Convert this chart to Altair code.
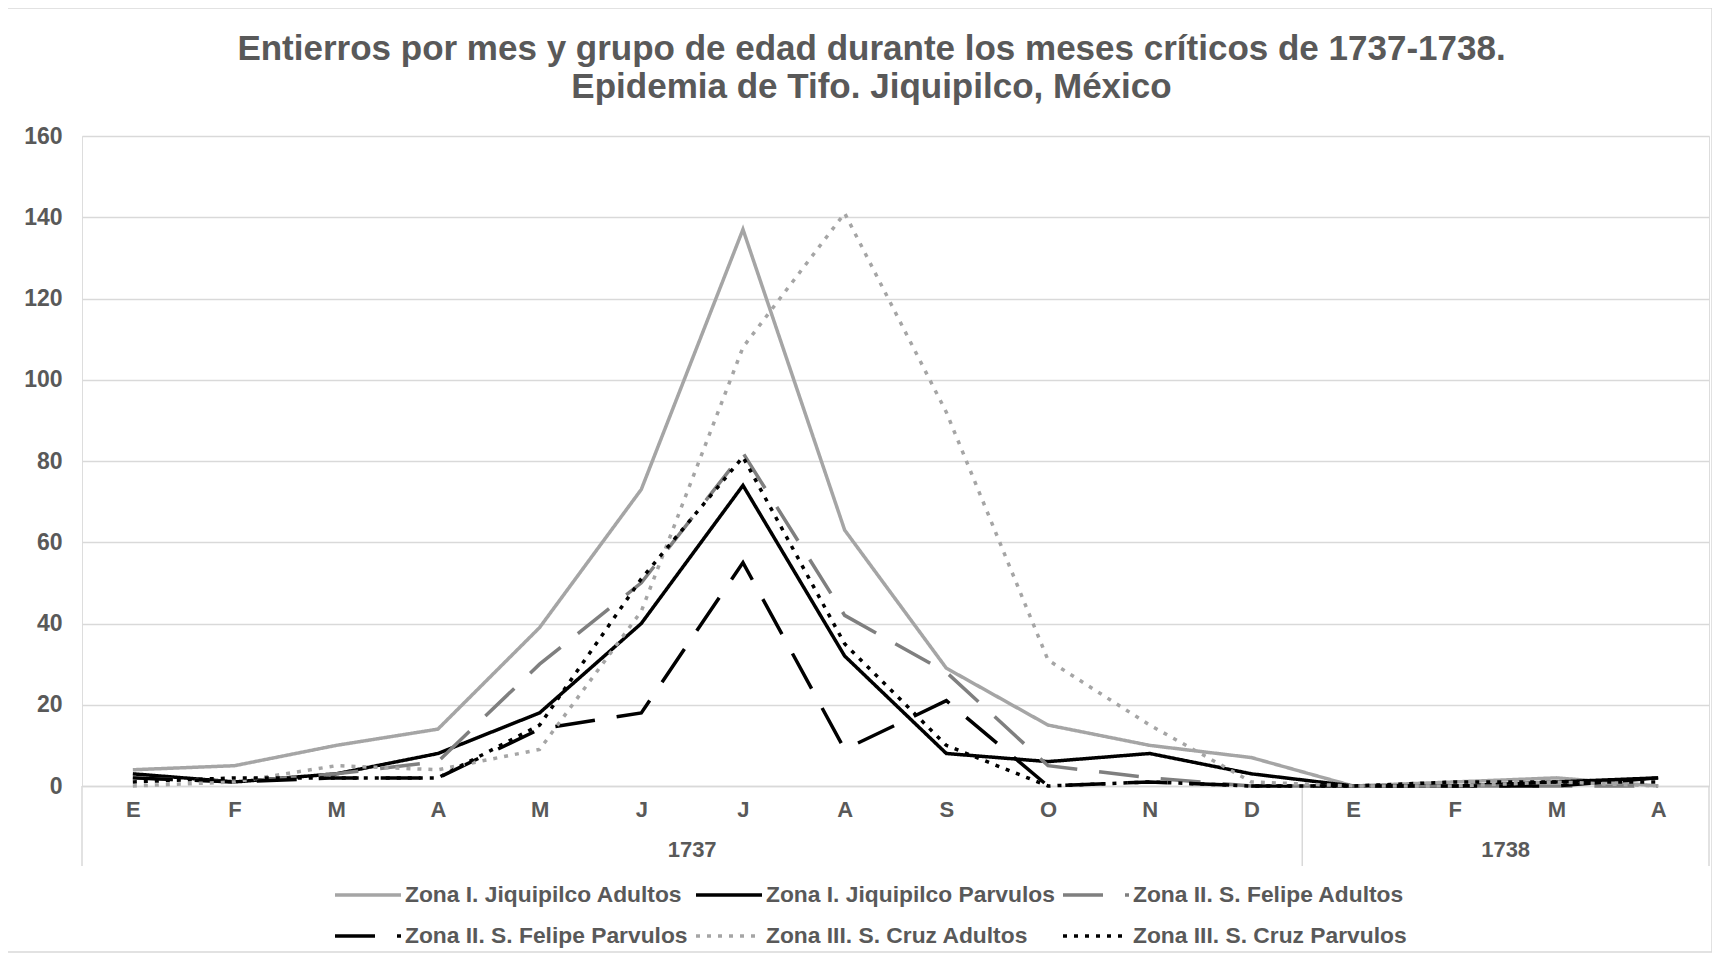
import altair as alt
import pandas as pd

# ---- data ----
months = ["E", "F", "M", "A", "M", "J", "J", "A", "S", "O", "N", "D", "E", "F", "M", "A"]
years = ["1737"] * 12 + ["1738"] * 4

series_names = [
    "Zona I. Jiquipilco Adultos",
    "Zona I. Jiquipilco Parvulos",
    "Zona II. S. Felipe Adultos",
    "Zona II. S. Felipe Parvulos",
    "Zona III. S. Cruz Adultos",
    "Zona III. S. Cruz Parvulos",
]
z1_adultos = [4, 5, 10, 14, 39, 73, 137, 63, 29, 15, 10, 7, 0, 1, 2, 0]
z1_parvulos = [3, 1, 3, 8, 18, 40, 74, 32, 8, 6, 8, 3, 0, 0, 1, 2]
z2_adultos = [2, 1, 3, 6, 30, 50, 82, 42, 28, 5, 2, 0, 0, 0, 0, 0]
z2_parvulos = [2, 1, 2, 2, 14, 18, 55, 9, 21, 0, 1, 0, 0, 0, 0, 2]
z3_adultos = [0, 1, 5, 4, 9, 43, 108, 141, 92, 31, 15, 1, 0, 0, 1, 0]
z3_parvulos = [1, 2, 2, 2, 15, 51, 81, 35, 10, 0, 1, 0, 0, 1, 1, 1]
series_values = [z1_adultos, z1_parvulos, z2_adultos, z2_parvulos, z3_adultos, z3_parvulos]

# ---- styles ----
colors = ["#A5A5A5", "#000000", "#7F7F7F", "#000000", "#A5A5A5", "#000000"]
dashes = [[1, 0], [1, 0], [40, 22], [40, 22], [4, 7], [4, 7]]
widths = [3.5, 3.5, 4.8, 4.5, 4, 4]
TXT = "#595959"
GRID = "#D9D9D9"
FONT = "Liberation Sans"
W, H = 1627, 650

rows = []
for name, vals in zip(series_names, series_values):
    for i, v in enumerate(vals):
        rows.append({"i": i, "mes": months[i], "anio": years[i], "serie": name, "valor": v})
df = pd.DataFrame(rows)

# year groups (label centre and separators)
yr_rows = []
sep_rows = []
for y in dict.fromkeys(years):
    idx = [k for k, yy in enumerate(years) if yy == y]
    yr_rows.append({"x": (idx[0] + idx[-1]) / 2, "anio": y})
    sep_rows.append({"x": idx[0] - 0.5})
sep_rows.append({"x": len(years) - 0.5})
yr_df = pd.DataFrame(yr_rows)
sep_df = pd.DataFrame(sep_rows)

label_expr = "[" + ",".join("'%s'" % m for m in months) + "][datum.value]"

xscale = alt.Scale(domain=[-0.5, len(months) - 0.5], nice=False, zero=False)

lines = alt.Chart(df).mark_line(strokeJoin="miter").encode(
    x=alt.X(
        "i:Q",
        scale=xscale,
        axis=alt.Axis(
            values=list(range(len(months))),
            labelExpr=label_expr,
            ticks=False,
            grid=False,
            domainColor=GRID,
            domainWidth=1.5,
            title=None,
            labelFont=FONT,
            labelFontSize=22,
            labelFontWeight="bold",
            labelColor=TXT,
            labelPadding=13,
        ),
    ),
    y=alt.Y(
        "valor:Q",
        scale=alt.Scale(domain=[0, 160], nice=False),
        axis=alt.Axis(
            values=list(range(0, 161, 20)),
            ticks=False,
            domain=False,
            gridColor=GRID,
            gridWidth=1.5,
            title=None,
            labelFont=FONT,
            labelFontSize=23,
            labelFontWeight="bold",
            labelColor=TXT,
            labelPadding=20,
        ),
    ),
    color=alt.Color(
        "serie:N",
        scale=alt.Scale(domain=series_names, range=colors),
        sort=series_names,
        legend=alt.Legend(
            title=None,
            orient="none",
            direction="horizontal",
            legendX=264,
            legendY=737,
            columns=3,
            symbolType="M-1.65,0L1.65,0",
            symbolSize=1600,
            symbolStrokeWidth=4.5,
            labelFont=FONT,
            labelFontSize=22.8,
            labelFontWeight="bold",
            labelColor=TXT,
            labelOffset=15,
            columnPadding=1,
            rowPadding=7,
            labelLimit=400,
        ),
    ),
    strokeDash=alt.StrokeDash(
        "serie:N",
        scale=alt.Scale(domain=series_names, range=dashes),
        sort=series_names,
        legend=alt.Legend(title=None),
    ),
    strokeWidth=alt.StrokeWidth(
        "serie:N",
        scale=alt.Scale(domain=series_names, range=widths),
        sort=series_names,
        legend=None,
    ),
    detail="serie:N",
)

year_text = alt.Chart(yr_df).mark_text(
    font=FONT, fontSize=22, fontWeight="bold", color=TXT, baseline="middle"
).encode(x=alt.X("x:Q", scale=xscale), y=alt.value(H + 64), text="anio:N")

seps = alt.Chart(sep_df).mark_rule(color=GRID, strokeWidth=1.5).encode(
    x=alt.X("x:Q", scale=xscale), y=alt.value(H), y2=alt.value(H + 80)
)

border = alt.Chart(pd.DataFrame({"a": [0]})).mark_rect(
    fill=None, stroke=GRID, strokeWidth=1.5
).encode(x=alt.value(-75), x2=alt.value(W + 3), y=alt.value(-128), y2=alt.value(H + 166))

chart = (
    alt.layer(border, seps, lines, year_text)
    .properties(
        width=W,
        height=H,
        padding={"left": 74, "top": 128, "right": 3, "bottom": 168},
        autosize=alt.AutoSizeParams(type="none"),
        title=alt.TitleParams(
            text=[
                "Entierros por mes y grupo de edad durante los meses críticos de 1737-1738.",
                "Epidemia de Tifo. Jiquipilco, México",
            ],
            font=FONT,
            fontSize=35,
            fontWeight="bold",
            color=TXT,
            anchor="middle",
            frame="group",
            lineHeight=38,
            offset=-98,
            dx=-24,
        ),
    )
    .configure_view(stroke=None)
    .configure(background="white")
)

chart.save("out.html", embed_options={"renderer": "svg", "actions": False})
